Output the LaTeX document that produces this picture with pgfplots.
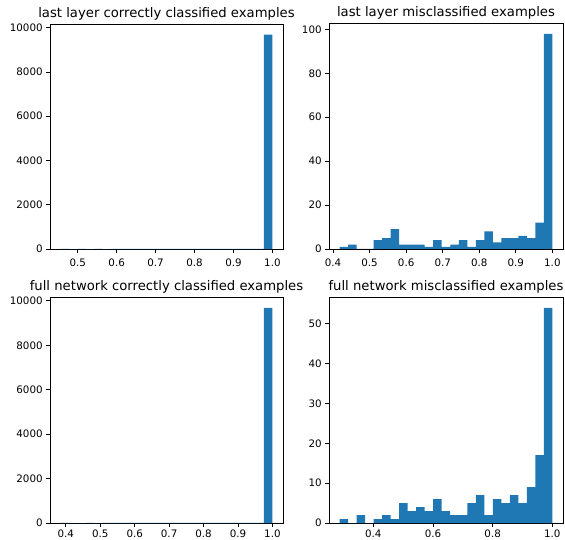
\documentclass[border=0pt]{standalone}
\usepackage{fontspec}
\setmainfont{DejaVu Sans}
\usepackage{pgfplots}
\pgfplotsset{compat=1.18}
\definecolor{mplblue}{RGB}{31,119,180}
\pgfplotsset{
  hist/.style={
    scale only axis, anchor=south west,
    tick align=outside, tick pos=left,
    major tick length=3.85pt,
    every tick/.append style={black, line width=0.8pt},
    axis line style={black, line width=0.8pt},
    ymin=0,
    scaled y ticks=false, scaled x ticks=false,
    tick label style={font=\fontsize{10.3}{12}\selectfont},
    yticklabel style={inner sep=0pt, xshift=-3.3pt},
    title style={font=\fontsize{13.2}{15}\selectfont, at={(0.5,1)}, anchor=base, yshift=0.3pt},
    /pgf/number format/assume math mode=true,
  },
  toprow/.style={xticklabel style={inner sep=0pt, yshift=-5.6pt}},
  botrow/.style={xticklabel style={inner sep=0pt, yshift=-3.2pt}},
  bars/.style={ybar interval, fill=mplblue, draw=none},
}
\begin{document}
\begin{tikzpicture}
% top left
\begin{axis}[hist, toprow, at={(50pt,290pt)}, width=233pt, height=225pt,
  xmin=0.4288, xmax=1.0272, ymax=10164,
  title={last layer correctly classified examples},
  xtick={0.5,0.6,0.7,0.8,0.9,1.0}, xticklabels={0.5,0.6,0.7,0.8,0.9,1.0},
  ytick={0,2000,4000,6000,8000,10000}, yticklabels={0,2000,4000,6000,8000,10000}]
\addplot[bars] coordinates {
(0.456,1)(0.47776,0)(0.49952,1)(0.52128,0)(0.54304,1)(0.5648,0)(0.58656,1)(0.60832,1)
(0.63008,1)(0.65184,1)(0.6736,1)(0.69536,2)(0.71712,2)(0.73888,2)(0.76064,2)(0.7824,3)
(0.80416,3)(0.82592,3)(0.84768,4)(0.86944,4)(0.8912,5)(0.91296,6)(0.93472,8)(0.95648,10)
(0.97824,9680)(1.0,9680)};
\end{axis}
% top right
\begin{axis}[hist, toprow, at={(329pt,290pt)}, width=234pt, height=226pt,
  xmin=0.3889, xmax=1.0291, ymax=102.9,
  title={last layer misclassified examples},
  xtick={0.4,0.5,0.6,0.7,0.8,0.9,1.0}, xticklabels={0.4,0.5,0.6,0.7,0.8,0.9,1.0},
  ytick={0,20,40,60,80,100}, yticklabels={0,20,40,60,80,100}]
\addplot[bars] coordinates {
(0.418,1)(0.44128,2)(0.46456,0)(0.48784,0)(0.51112,4)(0.5344,5)(0.55768,9)(0.58096,2)
(0.60424,2)(0.62752,2)(0.6508,1)(0.67408,4)(0.69736,1)(0.72064,2)(0.74392,4)(0.7672,1)
(0.79048,4)(0.81376,8)(0.83704,3)(0.86032,5)(0.8836,5)(0.90688,6)(0.93016,5)(0.95344,12)
(0.97672,98)(1.0,98)};
\end{axis}
% bottom left
\begin{axis}[hist, botrow, at={(50pt,16pt)}, width=233pt, height=226pt,
  xmin=0.354, xmax=1.0308, ymax=10174,
  title={full network correctly classified examples},
  xtick={0.4,0.5,0.6,0.7,0.8,0.9,1.0}, xticklabels={0.4,0.5,0.6,0.7,0.8,0.9,1.0},
  ytick={0,2000,4000,6000,8000,10000}, yticklabels={0,2000,4000,6000,8000,10000}]
\addplot[bars] coordinates {
(0.385,1)(0.4096,0)(0.4342,0)(0.4588,1)(0.4834,0)(0.508,1)(0.5326,1)(0.5572,1)
(0.5818,1)(0.6064,1)(0.631,1)(0.6556,2)(0.6802,2)(0.7048,2)(0.7294,2)(0.754,3)
(0.7786,3)(0.8032,3)(0.8278,4)(0.8524,4)(0.877,5)(0.9016,6)(0.9262,8)(0.9508,10)
(0.9754,9690)(1.0,9690)};
\end{axis}
% bottom right
\begin{axis}[hist, botrow, at={(329pt,16pt)}, width=234pt, height=226pt,
  xmin=0.2514, xmax=1.0357, ymax=56.7,
  title={full network misclassified examples},
  xtick={0.4,0.6,0.8,1.0}, xticklabels={0.4,0.6,0.8,1.0},
  ytick={0,10,20,30,40,50}, yticklabels={0,10,20,30,40,50}]
\addplot[bars] coordinates {
(0.287,1)(0.31552,0)(0.34404,2)(0.37256,0)(0.40108,1)(0.4296,2)(0.45812,1)(0.48664,5)
(0.51516,3)(0.54368,4)(0.5722,3)(0.60072,6)(0.62924,3)(0.65776,2)(0.68628,2)(0.7148,5)
(0.74332,7)(0.77184,2)(0.80036,6)(0.82888,5)(0.8574,7)(0.88592,5)(0.91444,9)(0.94296,17)
(0.97148,54)(1.0,54)};
\end{axis}
\pgfresetboundingbox
\path[use as bounding box] (0pt,0pt) rectangle (565pt,539pt);
\end{tikzpicture}
\end{document}
